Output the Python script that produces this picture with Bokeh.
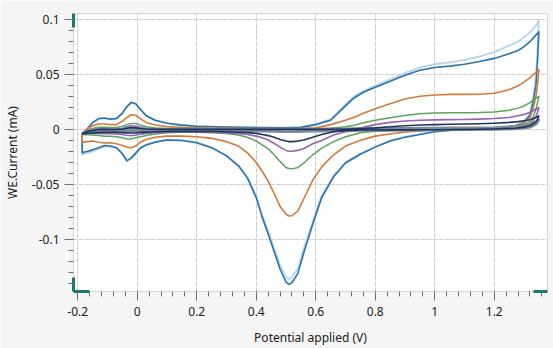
from bokeh.plotting import figure
from bokeh.models import Range1d, FixedTicker, CustomJSTickFormatter, LinearAxis, Grid
from bokeh.embed import file_html
from bokeh.resources import INLINE

# ---------------- data ----------------
# forward (anodic) scan potentials, V
V_FWD = [-0.185, -0.17, -0.15, -0.13, -0.11, -0.09, -0.07, -0.05, -0.035, -0.02, -0.005,
         0.01, 0.03, 0.06, 0.1, 0.15, 0.2, 0.3, 0.4, 0.5, 0.55, 0.6, 0.65, 0.7, 0.73, 0.76,
         0.8, 0.85, 0.9, 0.95, 1.0, 1.05, 1.1, 1.15, 1.2, 1.25, 1.28, 1.3, 1.32, 1.34, 1.35]
# reverse (cathodic) scan potentials, V
V_REV = [1.35, 1.345, 1.34, 1.33, 1.32, 1.3, 1.27, 1.2, 1.1, 1.0, 0.95, 0.9, 0.85, 0.8, 0.75,
         0.7, 0.66, 0.62, 0.59, 0.56, 0.54, 0.52, 0.51, 0.5, 0.48, 0.46, 0.44, 0.42, 0.4, 0.37,
         0.34, 0.3, 0.25, 0.2, 0.15, 0.1, 0.06, 0.03, 0.01, -0.005, -0.02, -0.035, -0.05, -0.07,
         -0.09, -0.11, -0.13, -0.15, -0.17, -0.185]

# currents, mA
lightblue_fwd = [-0.005, -0.001, 0.006, 0.0095, 0.0102, 0.0092, 0.0098, 0.0148, 0.0205, 0.0243, 0.0232,
                 0.0183, 0.0124, 0.0085, 0.0058, 0.0040, 0.0030, 0.0022, 0.0018, 0.0016, 0.0022, 0.0050,
                 0.0095, 0.0230, 0.0305, 0.0350, 0.0400, 0.0458, 0.0515, 0.0565, 0.0595, 0.0612, 0.0635,
                 0.0665, 0.0705, 0.0765, 0.0800, 0.0840, 0.0885, 0.0945, 0.0995]
lightblue_rev = [0.0995, 0.0700, 0.0480, 0.0280, 0.0150, 0.0072, 0.0035, 0.0016, 0.0006, -0.0018,
                 -0.0042, -0.0066, -0.0100, -0.0155, -0.0218, -0.0298, -0.0420, -0.0600, -0.0835,
                 -0.1085, -0.1265, -0.1345, -0.1360, -0.1345, -0.1235, -0.1080, -0.0925, -0.0780,
                 -0.0605, -0.0430, -0.0325, -0.0237, -0.0163, -0.0118, -0.0098, -0.0093, -0.0112,
                 -0.0137, -0.0167, -0.0212, -0.0257, -0.0280, -0.0218, -0.0167, -0.0155, -0.0155,
                 -0.0175, -0.0200, -0.0215, -0.0225]

blue_fwd = [-0.004, 0.000, 0.0065, 0.0100, 0.0105, 0.0095, 0.0100, 0.0150, 0.0210, 0.0248, 0.0235,
            0.0185, 0.0125, 0.0085, 0.0058, 0.0040, 0.0030, 0.0022, 0.0018, 0.0015, 0.0020, 0.0045,
            0.0085, 0.0215, 0.0290, 0.0340, 0.0385, 0.0440, 0.0495, 0.0540, 0.0565, 0.0578, 0.0595,
            0.0620, 0.0648, 0.0690, 0.0720, 0.0755, 0.0800, 0.0860, 0.0890]
blue_rev = [0.0890, 0.0600, 0.0400, 0.0240, 0.0130, 0.0065, 0.0032, 0.0015, 0.0005, -0.0020,
            -0.0045, -0.0070, -0.0105, -0.0160, -0.0225, -0.0305, -0.0430, -0.0620, -0.0860,
            -0.1120, -0.1310, -0.1395, -0.1410, -0.1390, -0.1270, -0.1110, -0.0950, -0.0800,
            -0.0620, -0.0440, -0.0330, -0.0240, -0.0165, -0.0120, -0.0100, -0.0095, -0.0115,
            -0.0140, -0.0170, -0.0215, -0.0260, -0.0285, -0.0220, -0.0165, -0.0150, -0.0145,
            -0.0165, -0.0185, -0.0200, -0.0210]

orange_fwd = [-0.004, 0.0005, 0.0035, 0.0050, 0.0050, 0.0045, 0.0045, 0.0075, 0.0110, 0.0135, 0.0130,
              0.0100, 0.0065, 0.0042, 0.0028, 0.0020, 0.0016, 0.0012, 0.0010, 0.0010, 0.0010, 0.0015,
              0.0045, 0.0085, 0.0112, 0.0148, 0.0190, 0.0235, 0.0278, 0.0303, 0.0315, 0.0320, 0.0320,
              0.0322, 0.0330, 0.0362, 0.0398, 0.0432, 0.0472, 0.0520, 0.0545]
orange_rev = [0.0545, 0.0400, 0.0300, 0.0180, 0.0110, 0.0060, 0.0030, 0.0012, 0.0005, 0.0000,
              -0.0012, -0.0022, -0.0040, -0.0060, -0.0098, -0.0150, -0.0230, -0.0340, -0.0460,
              -0.0630, -0.0740, -0.0785, -0.0787, -0.0770, -0.0700, -0.0580, -0.0470, -0.0380,
              -0.0300, -0.0210, -0.0150, -0.0110, -0.0080, -0.0065, -0.0060, -0.0060, -0.0070,
              -0.0090, -0.0115, -0.0150, -0.0165, -0.0160, -0.0145, -0.0130, -0.0120, -0.0123,
              -0.0115, -0.0105, -0.0110, -0.0117]

green_fwd = [-0.003, -0.0005, 0.0010, 0.0020, 0.0020, 0.0018, 0.0018, 0.0030, 0.0045, 0.0055, 0.0055,
             0.0040, 0.0025, 0.0015, 0.0010, 0.0009, 0.0008, 0.0008, 0.0008, 0.0008, 0.0008, 0.0008,
             0.0012, 0.0025, 0.0040, 0.0062, 0.0085, 0.0108, 0.0128, 0.0145, 0.0150, 0.0152, 0.0153,
             0.0155, 0.0160, 0.0175, 0.0195, 0.0215, 0.0245, 0.0285, 0.0303]
green_rev = [0.0303, 0.0240, 0.0180, 0.0110, 0.0075, 0.0045, 0.0025, 0.0010, 0.0003, 0.0000,
             -0.0003, -0.0006, -0.0010, -0.0015, -0.0030, -0.0065, -0.0110, -0.0170, -0.0230,
             -0.0305, -0.0345, -0.0358, -0.0355, -0.0345, -0.0290, -0.0230, -0.0175, -0.0140,
             -0.0105, -0.0070, -0.0050, -0.0035, -0.0028, -0.0025, -0.0025, -0.0030, -0.0040,
             -0.0055, -0.0065, -0.0075, -0.0085, -0.0085, -0.0075, -0.0065, -0.0060, -0.0060,
             -0.0055, -0.0050, -0.0048, -0.0045]

purple_fwd = [-0.003, -0.001, 0.0000, 0.0008, 0.0008, 0.0005, 0.0005, 0.0012, 0.0025, 0.0035, 0.0030,
              0.0020, 0.0010, 0.0005, 0.0003, 0.0003, 0.0003, 0.0003, 0.0003, 0.0003, 0.0003, 0.0003,
              0.0003, 0.0003, 0.0008, 0.0020, 0.0045, 0.0065, 0.0078, 0.0085, 0.0088, 0.0090, 0.0092,
              0.0095, 0.0100, 0.0110, 0.0125, 0.0138, 0.0158, 0.0185, 0.0200]
purple_rev = [0.0200, 0.0150, 0.0120, 0.0080, 0.0055, 0.0035, 0.0020, 0.0008, 0.0002, 0.0000,
              -0.0002, -0.0003, -0.0004, -0.0005, -0.0007, -0.0020, -0.0050, -0.0100, -0.0130,
              -0.0172, -0.0190, -0.0198, -0.0197, -0.0190, -0.0160, -0.0125, -0.0095, -0.0075,
              -0.0060, -0.0045, -0.0035, -0.0028, -0.0022, -0.0020, -0.0020, -0.0022, -0.0028,
              -0.0035, -0.0042, -0.0050, -0.0055, -0.0052, -0.0045, -0.0040, -0.0038, -0.0038,
              -0.0036, -0.0035, -0.0035, -0.0035]

grey_fwd = [-0.003, -0.0015, -0.0008, -0.0003, 0.0000, 0.0000, 0.0000, 0.0003, 0.0006, 0.0008, 0.0008,
            0.0006, 0.0005, 0.0005, 0.0005, 0.0005, 0.0005, 0.0005, 0.0005, 0.0005, 0.0005, 0.0005,
            0.0006, 0.0007, 0.0008, 0.0009, 0.0010, 0.0011, 0.0012, 0.0013, 0.0014, 0.0015, 0.0016,
            0.0017, 0.0019, 0.0024, 0.0030, 0.0038, 0.0050, 0.0072, 0.0090]
grey_rev = [0.0090, 0.0065, 0.0050, 0.0032, 0.0022, 0.0012, 0.0006, 0.0001, -0.0002, -0.0004,
            -0.0005, -0.0006, -0.0007, -0.0008, -0.0009, -0.0010, -0.0012, -0.0014, -0.0016,
            -0.0018, -0.0019, -0.0020, -0.0020, -0.0020, -0.0019, -0.0018, -0.0016, -0.0015,
            -0.0014, -0.0013, -0.0012, -0.0011, -0.0010, -0.0010, -0.0010, -0.0010, -0.0011,
            -0.0012, -0.0013, -0.0014, -0.0015, -0.0015, -0.0015, -0.0015, -0.0016, -0.0018,
            -0.0020, -0.0023, -0.0026, -0.0030]

navy_fwd = [-0.004, -0.002, -0.001, 0.0000, 0.0002, 0.0000, 0.0000, 0.0005, 0.0012, 0.0018, 0.0015,
            0.0010, 0.0005, 0.0003, 0.0002, 0.0002, 0.0002, 0.0002, 0.0002, 0.0002, 0.0002, 0.0002,
            0.0002, 0.0003, 0.0006, 0.0010, 0.0015, 0.0025, 0.0035, 0.0042, 0.0045, 0.0048, 0.0050,
            0.0053, 0.0058, 0.0065, 0.0072, 0.0080, 0.0090, 0.0110, 0.0125]
navy_rev = [0.0125, 0.0090, 0.0070, 0.0050, 0.0035, 0.0022, 0.0012, 0.0005, 0.0000, -0.0002,
            -0.0002, -0.0003, -0.0003, -0.0004, -0.0004, -0.0010, -0.0020, -0.0045, -0.0070,
            -0.0095, -0.0105, -0.0110, -0.0110, -0.0105, -0.0090, -0.0070, -0.0055, -0.0045,
            -0.0035, -0.0028, -0.0024, -0.0020, -0.0018, -0.0018, -0.0018, -0.0018, -0.0020,
            -0.0023, -0.0026, -0.0030, -0.0032, -0.0030, -0.0028, -0.0026, -0.0025, -0.0025,
            -0.0028, -0.0032, -0.0036, -0.0040]

X_TICKS = [-0.2, 0, 0.2, 0.4, 0.6, 0.8, 1, 1.2]
X_MINOR = [-0.2 + 0.04 * i for i in range(41)]
Y_TICKS = [-0.1, -0.05, 0, 0.05, 0.1]
Y_MINOR = [-0.14 + 0.01 * i for i in range(25)]

X_RANGE = (-0.2143, 1.379)
Y_RANGE = (-0.1475, 0.1057)

# ---------------- figure ----------------
FONT = "Noto Sans"
W, H = 553, 348
BL, BR, BT, BB = 69, 6, 13, 54
p = figure(width=W, height=H, output_backend="svg", toolbar_location=None,
           x_range=Range1d(*X_RANGE), y_range=Range1d(*Y_RANGE),
           x_axis_location=None, y_axis_location=None,
           min_border_left=BL, min_border_right=BR, min_border_top=BT, min_border_bottom=BB)
p.background_fill_color = "white"
p.border_fill_color = "#f5f5f5"
p.outline_line_color = "#d4d4d4"
p.outline_line_width = 1

# teal range handles on the axes (thin axes with limited bounds, nearest the frame)
TEAL = "#137a70"
xs0, xs1 = X_RANGE
ys0, ys1 = Y_RANGE
px_x = (xs1 - xs0) / (W - BL - BR)
px_y = (ys1 - ys0) / (H - BT - BB)


def handle_axis(bounds):
    return LinearAxis(bounds=bounds, ticker=FixedTicker(ticks=[]),
                      axis_line_color=TEAL, axis_line_width=3,
                      major_tick_out=0, major_tick_in=0, minor_tick_out=0, minor_tick_in=0,
                      major_label_text_font_size="0px", axis_label=None)


p.add_layout(handle_axis((ys1 - 14 * px_y, ys1)), "left")
p.add_layout(handle_axis((ys0, ys0 + 14 * px_y)), "left")
p.add_layout(handle_axis((xs0, xs0 + 16 * px_x)), "below")
p.add_layout(handle_axis((xs1 - 14 * px_x, xs1)), "below")

fmt = "return String(parseFloat(tick.toFixed(3)));"
xaxis = LinearAxis(axis_label="Potential applied (V)")
yaxis = LinearAxis(axis_label="WE.Current (mA)")
for ax, ticks, minor, standoff, lstand in ((xaxis, X_TICKS, X_MINOR, 6, 10),
                                           (yaxis, Y_TICKS, Y_MINOR, 5, 8)):
    ax.ticker = FixedTicker(ticks=ticks, minor_ticks=minor)
    ax.formatter = CustomJSTickFormatter(code=fmt)
    ax.axis_line_color = None
    ax.major_tick_line_color = "#707070"
    ax.minor_tick_line_color = "#707070"
    ax.major_tick_out = 9
    ax.major_tick_in = 0
    ax.minor_tick_out = 5
    ax.minor_tick_in = 0
    ax.major_label_standoff = standoff
    ax.axis_label_standoff = lstand
    ax.major_label_text_font = FONT
    ax.major_label_text_font_size = "12px"
    ax.major_label_text_color = "#202020"
    ax.axis_label_text_font = FONT
    ax.axis_label_text_font_size = "12px"
    ax.axis_label_text_font_style = "normal"
    ax.axis_label_text_color = "#202020"
p.add_layout(xaxis, "below")
p.add_layout(yaxis, "left")

for dim, ticks in ((0, X_TICKS), (1, Y_TICKS)):
    p.add_layout(Grid(dimension=dim, ticker=FixedTicker(ticks=ticks),
                      grid_line_color="#c8c8c8", grid_line_dash="3 3", grid_line_width=1))

series = [
    (lightblue_fwd, lightblue_rev, "#b6d6ee", 1.9),
    (blue_fwd, blue_rev, "#2a72ae", 1.6),
    (orange_fwd, orange_rev, "#d6783a", 1.6),
    (green_fwd, green_rev, "#5aa55b", 1.5),
    (purple_fwd, purple_rev, "#9662b2", 1.6),
    (grey_fwd, grey_rev, "#7d8b99", 2.6),
    (navy_fwd, navy_rev, "#1f3560", 1.6),
]
for fwd, rev, color, w in series:
    xs = list(V_FWD[:len(fwd)]) + list(V_REV[:len(rev)]) + [V_FWD[0]]
    ys = list(fwd[:len(V_FWD)]) + list(rev[:len(V_REV)]) + [fwd[0]]
    p.line(xs, ys, line_color=color, line_width=w, line_join="round")

open("out.html", "w").write(file_html(p, INLINE))
